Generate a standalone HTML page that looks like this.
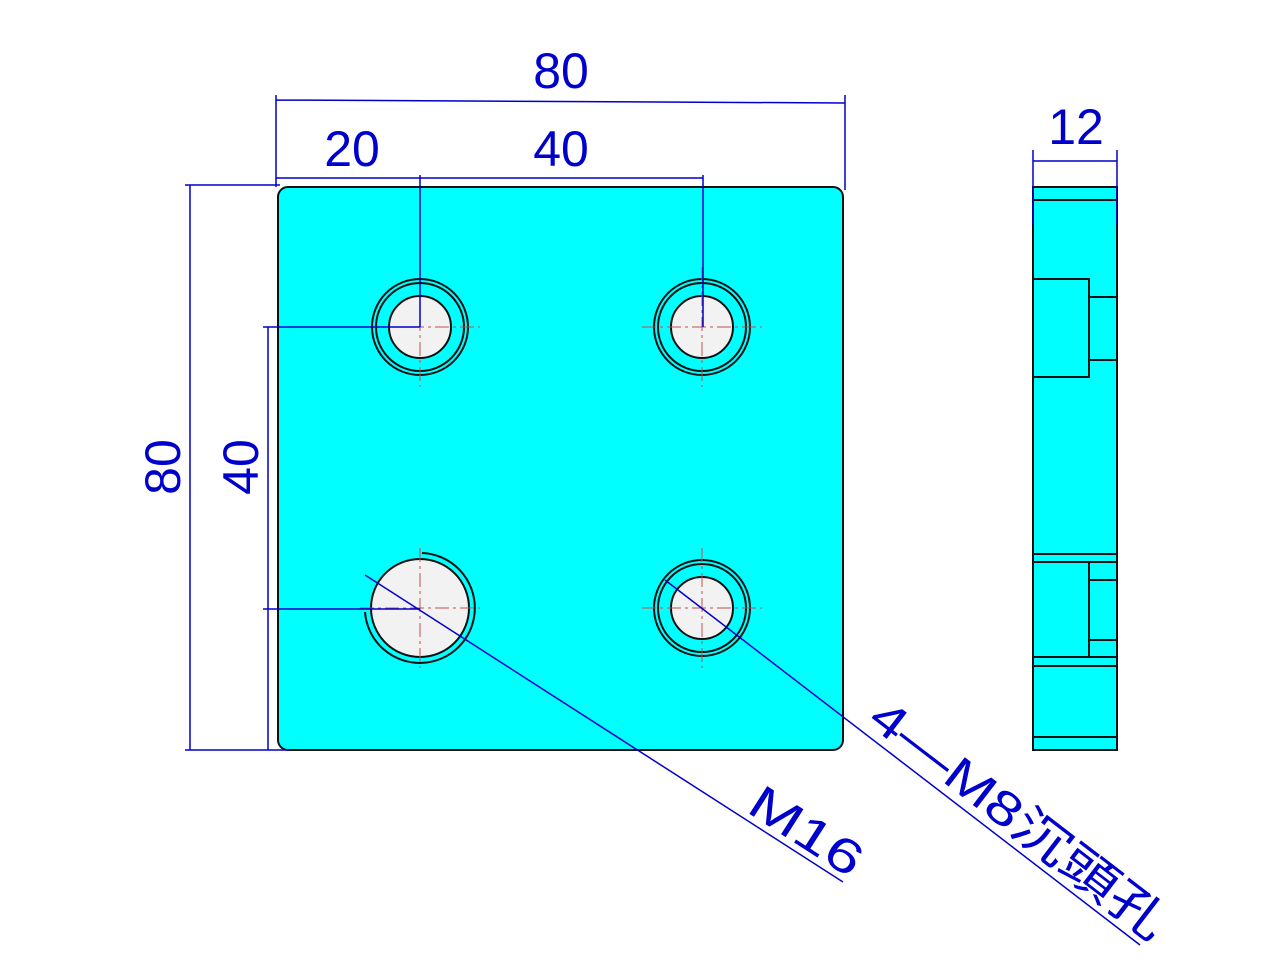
<!DOCTYPE html>
<html><head><meta charset="utf-8"><style>html,body{margin:0;padding:0;background:#fff}svg{display:block}</style></head>
<body>
<svg width="1280" height="979" viewBox="0 0 1280 979" xmlns="http://www.w3.org/2000/svg">
<rect width="1280" height="979" fill="#fff"/>
<!-- plate -->
<rect x="278" y="187" width="565" height="563" rx="10" fill="#00ffff" stroke="#111" stroke-width="2"/>
<g stroke="#111" stroke-width="2" fill="#f2f2f2">
 <circle cx="420" cy="327" r="48" fill="none"/><circle cx="420" cy="327" r="31"/><circle cx="420" cy="327" r="44" fill="none"/>
 <circle cx="702" cy="327" r="48" fill="none"/><circle cx="702" cy="327" r="31"/><circle cx="702" cy="327" r="44" fill="none"/>
 <circle cx="702" cy="608" r="48" fill="none"/><circle cx="702" cy="608" r="31"/><circle cx="702" cy="608" r="44" fill="none"/>
 <circle cx="420" cy="608" r="49"/>
 <path d="M 422 553 A 55 55 0 1 1 365 612" fill="none"/>
</g>
<g stroke="#c05050" stroke-width="1" stroke-dasharray="14 4 3 4">
 <path d="M360 327H480M420 267V387M642 327H762M702 267V387M642 608H762M702 548V668M360 608H480M420 548V668"/>
</g>
<!-- side view -->
<g stroke="#111" stroke-width="2" fill="#00ffff">
 <rect x="1033" y="187" width="84" height="563"/>
 <path d="M1033 200H1117M1033 737H1117" fill="none"/>
 <rect x="1033" y="279" width="56" height="98"/>
 <rect x="1089" y="297" width="28" height="63"/>
 <path d="M1033 554H1117M1033 562H1117M1033 657H1117M1033 666H1117" fill="none"/>
 <rect x="1033" y="562" width="56" height="95"/>
 <rect x="1089" y="580" width="28" height="60"/>
</g>
<!-- dimensions -->
<g stroke="#0000cc" stroke-width="1.5" fill="none">
 <path d="M276 100L845 103M276 95V187M845 95V190"/>
 <path d="M276 178H703M420 175V327M703 175V327"/>
 <path d="M190 185V750M185 185H280M185 750H290"/>
 <path d="M268 327V750M263 327H420M263 609H420"/>
 <path d="M1033 150V225M1117 150V225M1033 161H1117"/>
 <path d="M365 575L843 882"/>
 <path d="M665 580L1140 945"/>
</g>
<g fill="#0000cc" font-family="Liberation Sans, sans-serif" font-size="50">
 <text x="561" y="88" text-anchor="middle">80</text>
 <text x="352" y="166" text-anchor="middle">20</text>
 <text x="561" y="166" text-anchor="middle">40</text>
 <text x="1076" y="144" text-anchor="middle">12</text>
 <text transform="translate(180,467) rotate(-90)" text-anchor="middle">80</text>
 <text transform="translate(258,467) rotate(-90)" text-anchor="middle">40</text>
</g>
<g fill="#0000cc" font-family="Liberation Sans, 'Noto Sans CJK TC', sans-serif" font-size="48">
 <text transform="translate(745,811) rotate(32.7)" textLength="125" lengthAdjust="spacingAndGlyphs">M16</text>
 <text transform="translate(866,723) rotate(37.5)" textLength="360" lengthAdjust="spacingAndGlyphs">4—M8沉頭孔</text>
</g>
</svg>
</body></html>
